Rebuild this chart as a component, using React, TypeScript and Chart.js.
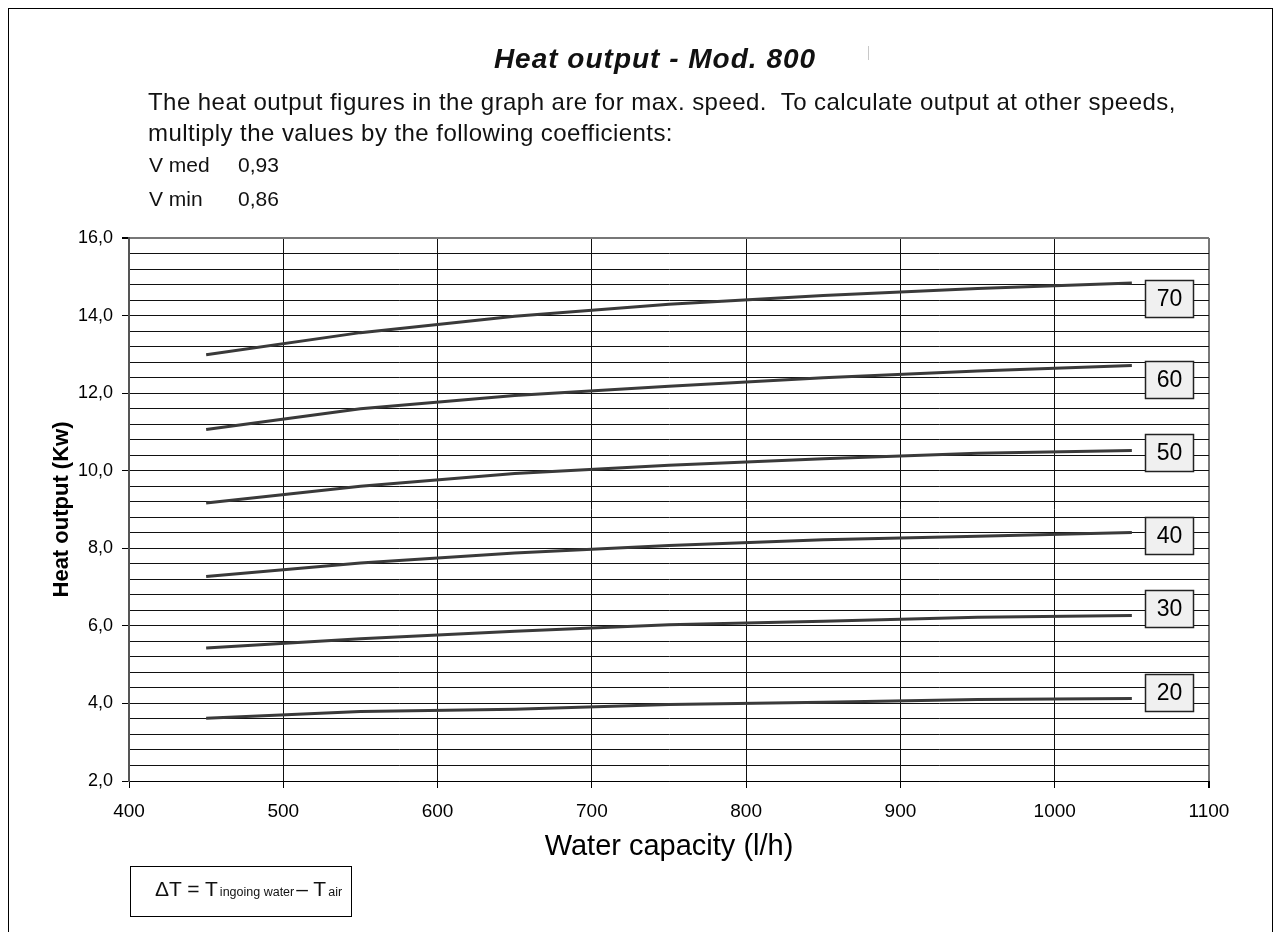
import React, { useEffect, useRef } from "react";
import { Chart, registerables } from "chart.js";

Chart.register(...registerables);

// ---- data ----
const waterCapacity = [450, 550, 650, 750, 850, 950, 1050];
const deltaTs = ["20", "30", "40", "50", "60", "70"];
const out20 = [3.62, 3.79, 3.85, 3.97, 4.03, 4.1, 4.13];
const out30 = [5.43, 5.67, 5.86, 6.03, 6.12, 6.22, 6.27];
const out40 = [7.27, 7.62, 7.88, 8.07, 8.22, 8.31, 8.41];
const out50 = [9.17, 9.6, 9.93, 10.14, 10.31, 10.45, 10.52];
const out60 = [11.06, 11.6, 11.94, 12.18, 12.4, 12.57, 12.71];
const out70 = [12.99, 13.56, 13.98, 14.29, 14.52, 14.7, 14.84];
const seriesValues = [out20, out30, out40, out50, out60, out70];
// y value at which each ΔT tag box sits
const tagPositions = [4.29, 6.45, 8.33, 10.48, 12.36, 14.45];

const X_MIN = 400;
const X_MAX = 1100;
const X_STEP = 100;
const Y_MIN = 2;
const Y_MAX = 16;
const Y_MINOR_STEP = 0.4;
const Y_MAJOR_STEP = 2;

const FONT = "'Liberation Sans', Arial, Helvetica, sans-serif";

const isMajor = (v: number) =>
  Math.abs(v / Y_MAJOR_STEP - Math.round(v / Y_MAJOR_STEP)) < 1e-6;

const tagPlugin = {
  id: "tagBoxes",
  afterDatasetsDraw(chart: any) {
    const { ctx, chartArea, scales } = chart;
    const y = scales.y;
    ctx.save();
    deltaTs.forEach((label, i) => {
      const cy = y.getPixelForValue(tagPositions[i]);
      const w = 48;
      const h = 37;
      const left = chartArea.right - 64;
      const top = Math.round(cy - h / 2);
      ctx.fillStyle = "#f0f0f0";
      ctx.fillRect(left, top, w, h);
      ctx.strokeStyle = "#222";
      ctx.lineWidth = 1.5;
      ctx.strokeRect(left + 0.5, top + 0.5, w, h);
      ctx.fillStyle = "#000";
      ctx.font = `23px ${FONT}`;
      ctx.textAlign = "center";
      ctx.textBaseline = "middle";
      ctx.fillText(label, left + w / 2 + 0.5, top + h / 2 + 1.5);
    });
    ctx.restore();
  },
};

function HeatChart() {
  const ref = useRef<HTMLCanvasElement | null>(null);
  useEffect(() => {
    if (!ref.current) return;
    const datasets = seriesValues.map((vals, i) => ({
      label: deltaTs[i],
      data: vals.map((v, j) => ({ x: waterCapacity[j], y: v })),
      borderColor: "#3a3a3a",
      borderWidth: 3,
      pointRadius: 0,
      tension: 0,
      fill: false,
    }));
    const chart = new Chart(ref.current, {
      type: "line",
      data: { datasets },
      options: {
        animation: false,
        responsive: false,
        devicePixelRatio: 1,
        layout: { padding: { left: 0, right: 63, top: 229, bottom: 38 } },
        plugins: {
          legend: { display: false },
          tooltip: { enabled: false },
          title: { display: false },
        },
        scales: {
          x: {
            type: "linear",
            min: X_MIN,
            max: X_MAX,
            afterFit: (axis: any) => {
              axis.height = 90;
            },
            ticks: {
              stepSize: X_STEP,
              color: "#000",
              font: { family: FONT, size: 19 },
              padding: 12,
              maxRotation: 0,
              autoSkip: false,
              callback: (v: any) => String(v),
            },
            grid: {
              color: (c: any) => (c.tick && c.tick.value === X_MAX ? "#777" : "#111"),
              lineWidth: (c: any) => (c.tick && c.tick.value === X_MAX ? 2 : 1),
              tickColor: "#000",
              tickLength: 7,
            },
            border: { color: "#000", width: 1 },
            title: {
              display: true,
              text: "Water capacity (l/h)",
              color: "#000",
              font: { family: FONT, size: 29 },
              padding: { top: 0, bottom: 7 },
            },
          },
          y: {
            type: "linear",
            min: Y_MIN,
            max: Y_MAX,
            afterFit: (axis: any) => {
              axis.width = 120;
            },
            ticks: {
              stepSize: Y_MINOR_STEP,
              autoSkip: false,
              color: "#000",
              font: { family: FONT, size: 18 },
              padding: 9,
              callback: (v: any) =>
                isMajor(Number(v)) ? Number(v).toFixed(1).replace(".", ",") : "",
            },
            grid: {
              color: (c: any) =>
                c.tick && Math.abs(c.tick.value - Y_MAX) < 1e-6 ? "#777" : "#111",
              lineWidth: (c: any) =>
                c.tick && Math.abs(c.tick.value - Y_MAX) < 1e-6 ? 2 : 1,
              tickColor: (c: any) =>
                c.tick && isMajor(c.tick.value) ? "#000" : "rgba(0,0,0,0)",
              tickLength: 7,
            },
            border: { color: "#555", width: 2 },
            title: {
              display: true,
              text: "Heat output (Kw)",
              color: "#000",
              font: { family: FONT, size: 22, weight: "bold" },
              padding: { top: 40, bottom: 0 },
            },
          },
        },
      },
      plugins: [tagPlugin],
    });
    return () => chart.destroy();
  }, []);
  return (
    <canvas
      ref={ref}
      width={1263}
      height={900}
      style={{ position: "absolute", left: 0, top: 0, width: 1263, height: 900 }}
    />
  );
}

export default function App() {
  const text: React.CSSProperties = {
    position: "absolute",
    fontFamily: FONT,
    color: "#111",
    whiteSpace: "nowrap",
  };
  return (
    <div
      style={{
        position: "relative",
        width: 1263,
        height: 940,
        border: "1px solid #000",
        background: "#fff",
      }}
    >
      <HeatChart />
      <div
        style={{
          ...text,
          left: 0,
          width: 1292,
          textAlign: "center",
          top: 34,
          fontSize: 28,
          lineHeight: "32px",
          fontWeight: "bold",
          fontStyle: "italic",
          letterSpacing: "1px",
        }}
      >
        Heat output - Mod. 800
      </div>
      <div
        style={{
          position: "absolute",
          left: 859,
          top: 37,
          width: 1,
          height: 14,
          background: "#c8c8c8",
        }}
      />
      <div
        style={{
          ...text,
          left: 139,
          top: 77,
          fontSize: 24,
          lineHeight: "31px",
          letterSpacing: "0.45px",
        }}
      >
        The heat output figures in the graph are for max. speed.&nbsp; To calculate output at
        other speeds,
        <br />
        multiply the values by the following coefficients:
      </div>
      <div style={{ ...text, left: 140, top: 140, fontSize: 21, lineHeight: "31px" }}>
        <span style={{ display: "inline-block", width: 89 }}>V med</span>0,93
      </div>
      <div style={{ ...text, left: 140, top: 174, fontSize: 21, lineHeight: "31px" }}>
        <span style={{ display: "inline-block", width: 89 }}>V min</span>0,86
      </div>
      <div
        style={{
          position: "absolute",
          left: 121,
          top: 857,
          width: 222,
          height: 51,
          border: "1px solid #000",
          fontFamily: FONT,
          color: "#111",
          whiteSpace: "nowrap",
          boxSizing: "border-box",
          display: "flex",
          alignItems: "baseline",
          paddingLeft: 24,
          paddingTop: 10,
        }}
      >
        <span style={{ fontSize: 21 }}>ΔT = T</span>
        <span style={{ fontSize: 12.5, marginLeft: 2 }}>ingoing water</span>
        <span style={{ fontSize: 21, marginLeft: 2 }}>– T</span>
        <span style={{ fontSize: 12.5, marginLeft: 2 }}>air</span>
      </div>
    </div>
  );
}
